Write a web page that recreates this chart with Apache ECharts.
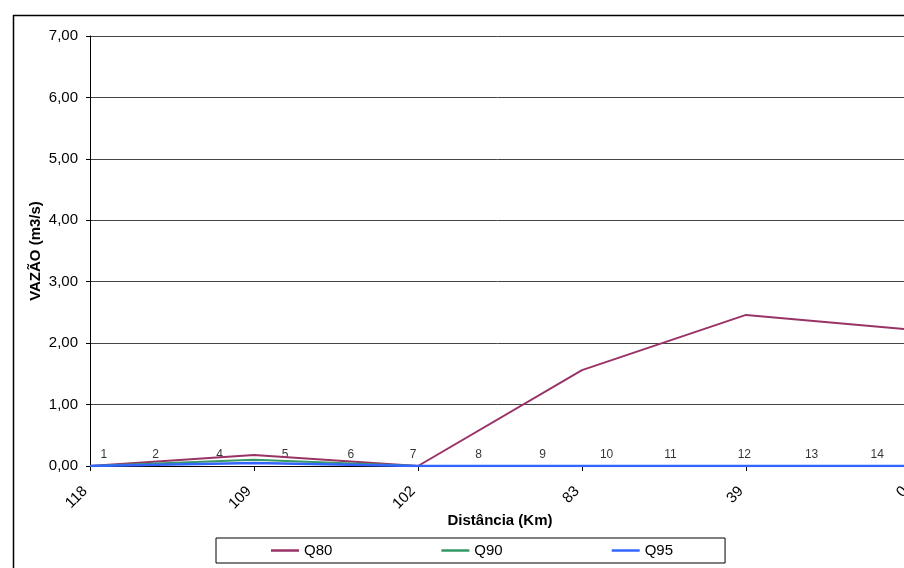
<!DOCTYPE html>
<html><head><meta charset="utf-8">
<script src="https://cdn.jsdelivr.net/npm/echarts@6/dist/echarts.min.js"></script>
<style>html,body{margin:0;padding:0;background:#fff}#c{width:904px;height:568px}</style>
</head><body><div id="c"></div>
<script>
const categories = ['118', '109', '102', '83', '39', '0'];
const q80 = [0, 0.18, 0, 1.56, 2.46, 2.22];
const q90 = [0, 0.10, 0, 0, 0, 0];
const q95 = [0, 0.05, 0, 0, 0, 0];
const stationNames = ['1', '2', '4', '5', '6', '7', '8', '9', '10', '11', '12', '13', '14'];
const stationPos = [0.085, 0.40, 0.79, 1.19, 1.59, 1.97, 2.37, 2.76, 3.15, 3.54, 3.99, 4.40, 4.80];
const stationLabelY = 0.19;

const chart = echarts.init(document.getElementById('c'));
const font = 'Liberation Sans, Arial, sans-serif';
chart.setOption({
  animation: false,
  textStyle: { fontFamily: font },
  graphic: [{
    type: 'rect', left: 11, top: 13, shape: { width: 910, height: 570 },
    style: { fill: 'none', stroke: '#000', lineWidth: 1.5 }, z: -1
  }],
  grid: { left: 90, top: 36, bottom: 102, right: -6, outerBoundsMode: 'none', containLabel: false },
  legend: {
    left: 216, top: 538, orient: 'horizontal',
    padding: [5, 52, 5, 55], itemGap: 109, itemWidth: 28, itemHeight: 14,
    borderColor: '#000', borderWidth: 1,
    icon: 'path://M0,6 L28,6 L28,8.5 L0,8.5 Z',
    textStyle: { fontSize: 15, color: '#000', fontFamily: font },
    data: ['Q80', 'Q90', 'Q95']
  },
  xAxis: [{
    type: 'category', data: categories, boundaryGap: false,
    name: 'Distância (Km)', nameLocation: 'middle', nameGap: 47, nameMoveOverlap: false,
    nameTextStyle: { fontWeight: 'bold', fontSize: 15, color: '#000' },
    axisLine: { lineStyle: { color: '#000' } },
    axisTick: { alignWithLabel: true, length: 5, lineStyle: { color: '#000' } },
    axisLabel: { rotate: 45, fontSize: 15, color: '#000', margin: 18, padding: [0, 7, 0, 0] },
    splitLine: { show: false }
  }, {
    type: 'value', min: 0, max: 5, show: false
  }],
  yAxis: {
    type: 'value', min: 0, max: 7, interval: 1,
    name: 'VAZÃO (m3/s)', nameLocation: 'middle', nameGap: 47, nameMoveOverlap: false,
    nameTextStyle: { fontWeight: 'bold', fontSize: 15, color: '#000' },
    axisLine: { show: true, lineStyle: { color: '#000' } },
    axisTick: { show: true, length: 4, lineStyle: { color: '#000' } },
    axisLabel: { fontSize: 15, color: '#000', margin: 12, formatter: v => v.toFixed(2).replace('.', ',') },
    splitLine: { lineStyle: { color: '#444', width: 1 } }
  },
  series: [
    { name: 'Q80', type: 'line', data: q80, symbol: 'none', lineStyle: { color: '#993366', width: 2 }, itemStyle: { color: '#993366' }, z: 3 },
    { name: 'Q90', type: 'line', data: q90, symbol: 'none', lineStyle: { color: '#339966', width: 2 }, itemStyle: { color: '#339966' }, z: 4 },
    { name: 'Q95', type: 'line', data: q95, symbol: 'none', lineStyle: { color: '#3366FF', width: 2.5 }, itemStyle: { color: '#3366FF' }, z: 5 },
    {
      name: 'stations', type: 'scatter', xAxisIndex: 1, symbolSize: 0,
      data: stationPos.map((p, i) => ({ value: [p, stationLabelY], name: stationNames[i] })),
      label: { show: true, position: 'inside', formatter: p => p.name, fontSize: 12, color: '#000', fontFamily: font },
      silent: true
    }
  ]
});
</script></body></html>
